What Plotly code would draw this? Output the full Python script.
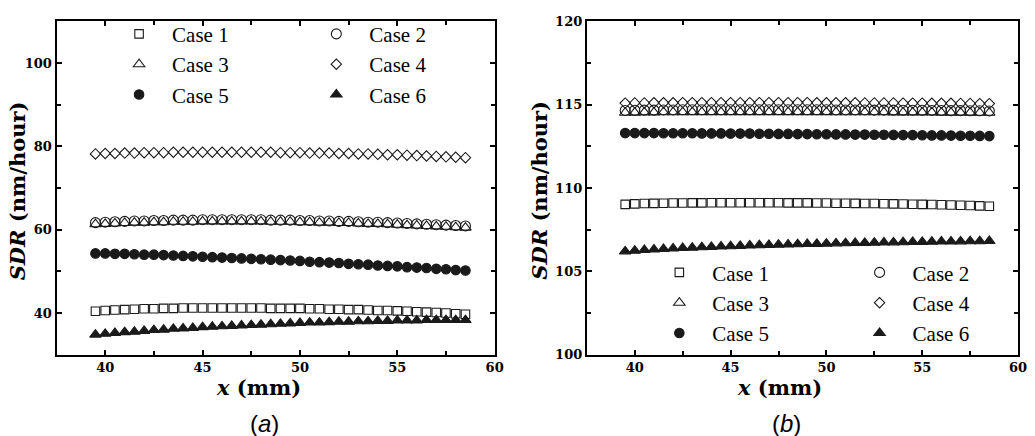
import plotly.graph_objects as go

# ---------------- data ----------------
x_mm = [39.5, 40.0, 40.5, 41.0, 41.5, 42.0, 42.5, 43.0, 43.5, 44.0,
        44.5, 45.0, 45.5, 46.0, 46.5, 47.0, 47.5, 48.0, 48.5, 49.0,
        49.5, 50.0, 50.5, 51.0, 51.5, 52.0, 52.5, 53.0, 53.5, 54.0,
        54.5, 55.0, 55.5, 56.0, 56.5, 57.0, 57.5, 58.0, 58.5]

case_names = ["Case 1", "Case 2", "Case 3", "Case 4", "Case 5", "Case 6"]

# panel (a)
a_case1 = [40.4, 40.6, 40.7, 40.8, 40.9, 41.0, 41.0, 41.1, 41.1, 41.2,
           41.2, 41.2, 41.2, 41.2, 41.2, 41.2, 41.2, 41.2, 41.1, 41.1,
           41.1, 41.1, 41.0, 41.0, 40.9, 40.9, 40.8, 40.8, 40.7, 40.6,
           40.6, 40.5, 40.4, 40.3, 40.2, 40.1, 40.0, 39.8, 39.7]
a_case2 = [61.7, 61.8, 61.9, 62.0, 62.1, 62.1, 62.2, 62.2, 62.3, 62.3,
           62.3, 62.4, 62.4, 62.4, 62.4, 62.4, 62.4, 62.4, 62.3, 62.3,
           62.3, 62.2, 62.2, 62.1, 62.1, 62.0, 62.0, 61.9, 61.8, 61.8,
           61.7, 61.6, 61.5, 61.4, 61.3, 61.2, 61.1, 61.0, 60.9]
a_case3 = [61.3, 61.4, 61.5, 61.6, 61.7, 61.7, 61.8, 61.8, 61.9, 61.9,
           61.9, 62.0, 62.0, 62.0, 62.0, 62.0, 62.0, 62.0, 61.9, 61.9,
           61.9, 61.8, 61.8, 61.7, 61.7, 61.6, 61.6, 61.5, 61.4, 61.4,
           61.3, 61.2, 61.1, 61.0, 60.9, 60.8, 60.7, 60.6, 60.5]
a_case4 = [78.2, 78.3, 78.3, 78.4, 78.4, 78.5, 78.5, 78.5, 78.6, 78.6,
           78.6, 78.6, 78.6, 78.6, 78.6, 78.6, 78.6, 78.6, 78.6, 78.5,
           78.5, 78.5, 78.4, 78.4, 78.4, 78.3, 78.3, 78.2, 78.2, 78.1,
           78.0, 78.0, 77.9, 77.8, 77.7, 77.6, 77.5, 77.4, 77.3]
a_case5 = [54.3, 54.3, 54.2, 54.2, 54.1, 54.0, 54.0, 53.9, 53.8, 53.7,
           53.6, 53.5, 53.4, 53.3, 53.2, 53.1, 53.0, 52.9, 52.8, 52.7,
           52.6, 52.5, 52.3, 52.2, 52.1, 52.0, 51.8, 51.7, 51.6, 51.4,
           51.3, 51.2, 51.0, 50.9, 50.8, 50.6, 50.5, 50.3, 50.2]
a_case6 = [34.8, 35.0, 35.2, 35.4, 35.5, 35.7, 35.9, 36.0, 36.2, 36.3,
           36.4, 36.6, 36.7, 36.8, 36.9, 37.0, 37.1, 37.2, 37.3, 37.4,
           37.5, 37.6, 37.7, 37.7, 37.8, 37.9, 37.9, 38.0, 38.0, 38.1,
           38.1, 38.2, 38.2, 38.2, 38.3, 38.3, 38.3, 38.3, 38.3]

# panel (b)
b_case1 = [109.02, 109.05, 109.07, 109.08, 109.09, 109.10, 109.10, 109.11, 109.11, 109.12,
           109.12, 109.12, 109.12, 109.12, 109.12, 109.12, 109.12, 109.11, 109.11, 109.11,
           109.10, 109.10, 109.09, 109.09, 109.08, 109.07, 109.07, 109.06, 109.05, 109.04,
           109.03, 109.02, 109.01, 109.00, 108.98, 108.97, 108.95, 108.93, 108.91]
b_case2 = [114.66, 114.67, 114.68, 114.68, 114.69, 114.69, 114.70, 114.70, 114.70, 114.70,
           114.70, 114.70, 114.70, 114.70, 114.70, 114.70, 114.70, 114.70, 114.70, 114.70,
           114.70, 114.70, 114.69, 114.69, 114.69, 114.69, 114.68, 114.68, 114.68, 114.67,
           114.67, 114.67, 114.66, 114.66, 114.65, 114.65, 114.64, 114.64, 114.63]
b_case3 = [114.52, 114.53, 114.54, 114.54, 114.55, 114.55, 114.56, 114.56, 114.56, 114.56,
           114.56, 114.56, 114.56, 114.56, 114.56, 114.56, 114.56, 114.56, 114.56, 114.56,
           114.56, 114.56, 114.55, 114.55, 114.55, 114.55, 114.55, 114.55, 114.54, 114.54,
           114.54, 114.54, 114.54, 114.53, 114.53, 114.53, 114.53, 114.52, 114.52]
b_case4 = [115.10, 115.11, 115.11, 115.12, 115.12, 115.12, 115.13, 115.13, 115.13, 115.13,
           115.13, 115.13, 115.13, 115.13, 115.13, 115.13, 115.13, 115.13, 115.13, 115.13,
           115.12, 115.12, 115.12, 115.12, 115.12, 115.11, 115.11, 115.11, 115.11, 115.10,
           115.10, 115.10, 115.09, 115.09, 115.09, 115.08, 115.08, 115.07, 115.07]
b_case5 = [113.30, 113.30, 113.30, 113.30, 113.29, 113.29, 113.29, 113.29, 113.28, 113.28,
           113.28, 113.27, 113.27, 113.27, 113.26, 113.26, 113.25, 113.25, 113.24, 113.24,
           113.23, 113.23, 113.22, 113.22, 113.21, 113.21, 113.20, 113.20, 113.19, 113.18,
           113.18, 113.17, 113.16, 113.16, 113.15, 113.14, 113.14, 113.13, 113.12]
b_case6 = [106.20, 106.24, 106.28, 106.31, 106.34, 106.37, 106.40, 106.42, 106.45, 106.47,
           106.49, 106.51, 106.53, 106.55, 106.57, 106.58, 106.60, 106.61, 106.63, 106.64,
           106.65, 106.66, 106.68, 106.69, 106.70, 106.71, 106.72, 106.73, 106.74, 106.75,
           106.76, 106.77, 106.78, 106.79, 106.79, 106.80, 106.81, 106.81, 106.82]

panel_a = [a_case1, a_case2, a_case3, a_case4, a_case5, a_case6]
panel_b = [b_case1, b_case2, b_case3, b_case4, b_case5, b_case6]

# ---------------- styles ----------------
INK = "#1a1a1a"
symbols = ["square-open", "circle-open", "triangle-up-open", "diamond-open", "circle", "triangle-up"]
sizes = [8.5, 10, 10, 8, 9.5, 10]

fig = go.Figure()

def add_panel(series, xa, ya, legend_left, legend_right):
    for i, (name, ys) in enumerate(zip(case_names, series)):
        fig.add_trace(go.Scatter(
            x=x_mm, y=ys, mode="markers", name=name,
            xaxis=xa, yaxis=ya,
            legend=legend_left if i % 2 == 0 else legend_right,
            marker=dict(symbol=symbols[i], size=sizes[i], color=INK,
                        line=dict(color=INK, width=1.1)),
        ))

add_panel(panel_a, "x", "y", "legend", "legend2")
add_panel(panel_b, "x2", "y2", "legend3", "legend4")

W, H = 1035, 436
def px(v):
    return v / W
def py(v):
    return 1 - v / H

tickfont = dict(family="DejaVu Serif", size=13, color="black", weight="bold")
minor_tick = dict(ticks="inside", ticklen=4, tickcolor="black", tickwidth=1.5)
axis_common = dict(showline=True, linewidth=2, linecolor="black", mirror="ticks",
                   ticks="inside", ticklen=5, tickwidth=1.5, tickcolor="black",
                   showgrid=False, zeroline=False, tickfont=tickfont)

fig.update_layout(
    width=W, height=H,
    margin=dict(l=0, r=0, t=0, b=0),
    paper_bgcolor="white", plot_bgcolor="white",
    xaxis=dict(domain=[px(57), px(499)], range=[37.5, 60], dtick=5, tick0=0,
               minor=dict(dtick=2.5, **minor_tick), anchor="y", **axis_common),
    yaxis=dict(domain=[py(360), py(15)], range=[30, 110], dtick=20, tick0=0,
               minor=dict(dtick=10, **minor_tick), anchor="x", **axis_common),
    xaxis2=dict(domain=[px(592), px(1027)], range=[37.5, 60], dtick=5, tick0=0,
                minor=dict(dtick=2.5, **minor_tick), anchor="y2", **axis_common),
    yaxis2=dict(domain=[py(360), py(15)], range=[100, 120], dtick=5, tick0=0,
                minor=dict(dtick=2.5, **minor_tick), anchor="x2", **axis_common),
)

leg_font = dict(family="Liberation Serif", size=21, color="black")
def leg(sym_x, top_y):
    return dict(x=px(sym_x - 33), y=py(top_y), xanchor="left", yanchor="top",
                orientation="v", font=leg_font, bgcolor="rgba(0,0,0,0)",
                borderwidth=0, itemwidth=56, tracegroupgap=0)

fig.update_layout(
    legend=leg(140, 7),
    legend2=leg(339, 7),
    legend3=leg(685, 254),
    legend4=leg(887, 254),
)

title_font = dict(family="DejaVu Serif", size=21, color="black", weight="bold")
ann = []
for cx in (18, 544):
    ann.append(dict(text="<i>SDR</i> (nm/hour)", x=px(cx), y=py(190), xref="paper", yref="paper",
                    textangle=-90, showarrow=False, font=title_font, xanchor="center", yanchor="middle"))
for cx in (261, 786):
    ann.append(dict(text="<i>x</i> (mm)", x=px(cx), y=py(394), xref="paper", yref="paper",
                    showarrow=False, font=title_font, xanchor="center", yanchor="middle"))
for cx, lab in ((267, "(<i>a</i>)"), (793, "(<i>b</i>)")):
    ann.append(dict(text=lab, x=px(cx), y=py(431), xref="paper", yref="paper",
                    showarrow=False, font=dict(family="Liberation Sans", size=24, color="black"),
                    xanchor="center", yanchor="middle"))
fig.update_layout(annotations=ann)

fig.write_html("out.html")
